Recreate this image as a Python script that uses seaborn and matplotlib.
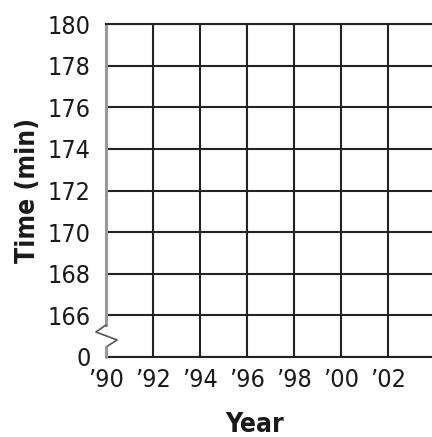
import matplotlib
matplotlib.use("Agg")
import matplotlib.pyplot as plt
from matplotlib import font_manager as fm
import seaborn as sns

# axis values
years = [1990, 1992, 1994, 1996, 1998, 2000, 2002]
year_labels = ["’90", "’92", "’94", "’96", "’98", "’00", "’02"]
time_ticks = [0, 166, 168, 170, 172, 174, 176, 178, 180]

sns.set_theme(style="white")
plt.rcParams["font.family"] = ["DejaVu Sans"]


def as_int(w):
    if isinstance(w, int):
        return w
    return fm.weight_dict.get(w, 400)


def narrow_font(weight):
    # look for an installed condensed sans face, the chart uses a narrow type
    prefs = ["Liberation Sans Narrow", "DejaVu Sans", "Noto Sans", "Open Sans", "Roboto", "Lato"]
    for fam in prefs:
        for f in fm.fontManager.ttflist:
            low = f.fname.lower()
            narrow = ("narrow" in low or "condensed" in low or f.stretch == "condensed")
            if any(k in low for k in ["semi", "extra", "ultra"]):
                continue
            if f.name.startswith(fam) and narrow and f.style == "normal" and as_int(f.weight) == weight:
                return fm.FontProperties(fname=f.fname)
    return None


fp_reg = narrow_font(400)
fp_bold = narrow_font(700)
if fp_reg is None or fp_bold is None:
    fp_reg = fm.FontProperties(family="Roboto")
    fp_bold = fm.FontProperties(family="Roboto", weight="bold")
    tick_size, label_size = 15, 17
else:
    tick_size, label_size = 18, 19

fig = plt.figure(figsize=(4.32, 4.37), dpi=100)
ax = fig.add_axes([106 / 432, 80 / 437, 326 / 432, 333 / 437])

# y axis is broken between 0 and 166, so ticks sit on even positions
ypos = list(range(len(time_ticks)))
ax.set_xlim(years[0], years[0] + 2 * 326 / 47)
ax.set_ylim(ypos[0], ypos[-1])
ax.set_xticks(years, year_labels)
ax.set_yticks(ypos, [str(t) for t in time_ticks])

ax.set_axisbelow(True)
ax.grid(True, axis="y", color="#222222", lw=1.5)
ax.vlines(years[1:], ypos[0], ypos[-1], color="#222222", lw=1.5, zorder=1)
ax.tick_params(length=0, labelcolor="#1a1a1a")
ax.tick_params(axis="y", pad=11)
ax.tick_params(axis="x", pad=8)
for lbl in ax.get_xticklabels() + ax.get_yticklabels():
    lbl.set_fontproperties(fp_reg)
    lbl.set_fontsize(tick_size)

sns.despine(ax=ax, right=True, top=False)
for s in ["top", "bottom"]:
    ax.spines[s].set_color("#222222")
    ax.spines[s].set_linewidth(1.5)
ax.spines["left"].set_color("#999999")
ax.spines["left"].set_linewidth(2.2)
ax.spines["left"].set_bounds(0.77, ypos[-1])

# break mark on the y axis
x0 = years[0]
ax.plot([x0, x0 - 0.43, x0 + 0.47, x0], [0.77, 0.60, 0.41, 0.24],
        color="#555555", lw=1.2, clip_on=False, zorder=5)
ax.plot([x0, x0], [0.24, 0], color="#999999", lw=2.2, clip_on=False, zorder=5)

ax.set_xlabel("Year", fontproperties=fp_bold, fontsize=label_size, color="#1a1a1a")
ax.xaxis.label.set_va("baseline")
ax.xaxis.set_label_coords(0.457, -0.225)
ax.set_ylabel("Time (min)", fontproperties=fp_bold, fontsize=label_size, color="#1a1a1a")
ax.yaxis.set_label_coords(-0.2, 0.5)

fig.savefig("out.png", dpi=100)
